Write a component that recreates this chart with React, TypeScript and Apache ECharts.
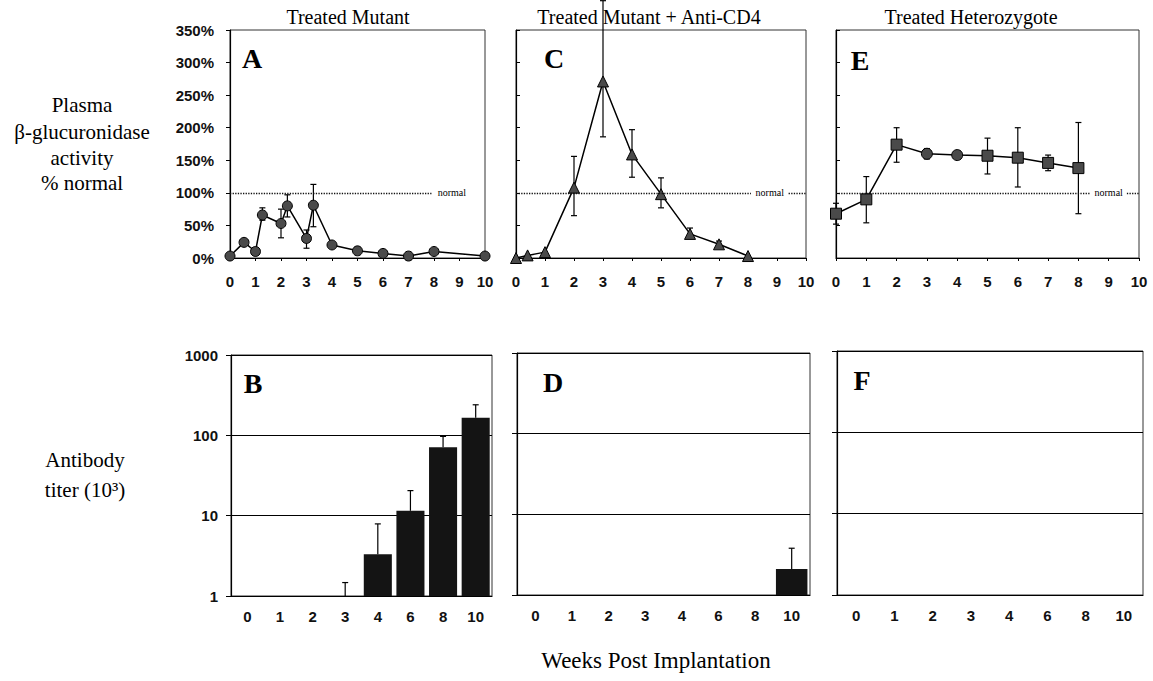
import React, { useEffect, useRef } from 'react';
import * as echarts from 'echarts';

// Panel A – Treated Mutant
const weeksA = [0, 0.55, 1, 1.27, 2, 2.25, 3, 3.27, 4, 5, 6, 7, 8, 10];
const activityA = [3, 24, 10, 66, 53, 80, 30, 81, 20, 11, 7, 3, 10, 3];
const lowA = [null, null, null, 58, 31, 63, 15, 48, null, null, null, null, null, null];
const highA = [null, null, null, 77, 75, 97, 43, 113, null, null, null, null, null, null];

// Panel C – Treated Mutant + Anti-CD4
const weeksC = [0, 0.4, 1, 2, 3, 4, 5, 6, 7, 8];
const activityC = [0, 4, 9, 108, 271, 159, 98, 37, 21, 3];
const lowC = [null, null, null, 65, 186, 124, 77, 31, 17, null];
const highC = [null, null, null, 156, 395, 197, 123, 46, 26, null];

// Panel E – Treated Heterozygote
const weeksE = [0, 1, 2, 3, 4, 5, 6, 7, 8];
const activityE = [68, 90, 174, 160, 158, 157, 154, 146, 138];
const lowE = [52, 54, 147, 152, 153, 129, 109, 134, 68];
const highE = [84, 125, 200, 168, 163, 184, 200, 158, 208];

// Antibody titer panels (10^3)
const titerWeeks = ['0', '1', '2', '3', '4', '6', '8', '10'];
const titerB = [null, null, null, 1, 3.3, 11.5, 71, 165];
const titerBHigh = [null, null, null, 1.47, 7.9, 20.5, 97, 240];
const titerD = [null, null, null, null, null, null, null, 2.1];
const titerDHigh = [null, null, null, null, null, null, null, 3.8];
const titerF = [null, null, null, null, null, null, null, null];
const titerFHigh = [null, null, null, null, null, null, null, null];

const normalLevel = 100;

const INK = '#000';
const SANS = '"Liberation Sans", Arial, sans-serif';
const SERIF = '"Liberation Serif", "Times New Roman", serif';

function errRender(capW: number, lowerCap: boolean) {
  return (params: any, api: any) => {
    const x = api.value(0);
    const lo = api.value(1);
    const hi = api.value(2);
    const a = api.coord([x, lo]);
    const b = api.coord([x, hi]);
    const st = { stroke: INK, lineWidth: 1.2 };
    const children: any[] = [
      { type: 'line', shape: { x1: a[0], y1: a[1], x2: b[0], y2: b[1] }, style: st },
      { type: 'line', shape: { x1: b[0] - capW, y1: b[1], x2: b[0] + capW, y2: b[1] }, style: st },
    ];
    if (lowerCap) {
      children.push({ type: 'line', shape: { x1: a[0] - capW, y1: a[1], x2: a[0] + capW, y2: a[1] }, style: st });
    }
    return { type: 'group', children };
  };
}

function errData(xs: any[], lo: any[], hi: any[]) {
  const out: any[] = [];
  xs.forEach((x, i) => {
    if (lo[i] != null && hi[i] != null) out.push([x, lo[i], hi[i]]);
  });
  return out;
}

function txt(x: number, y: number, text: string, font: string, align = 'center') {
  return {
    type: 'text',
    x,
    y,
    style: {
      text,
      font,
      fill: INK,
      textAlign: align,
      textVerticalAlign: 'middle',
      align,
      verticalAlign: 'middle',
    },
  };
}

export default function App() {
  const ref = useRef<HTMLDivElement>(null);

  useEffect(() => {
    if (!ref.current) return;
    const chart = echarts.init(ref.current, null, { renderer: 'svg' });

    const topGrids = [
      { left: 230, top: 30, width: 255, height: 228 },
      { left: 516, top: 30, width: 290, height: 228 },
      { left: 836, top: 30, width: 303, height: 228 },
    ];
    const botGrids = [
      { left: 231, top: 355, width: 261, height: 241 },
      { left: 517, top: 353, width: 293, height: 242 },
      { left: 837, top: 351, width: 306, height: 244 },
    ];
    const grid = [...topGrids, ...botGrids].map((g) => ({
      ...g,
      show: true,
      borderColor: '#333',
      borderWidth: 1,
      backgroundColor: 'transparent',
    }));

    const labelStyle = { fontSize: 15, fontWeight: 'bold', color: '#111', fontFamily: SANS };

    const xAxis: any[] = [];
    const yAxis: any[] = [];
    for (let i = 0; i < 3; i++) {
      xAxis.push({
        type: 'value',
        gridIndex: i,
        min: 0,
        max: 10,
        interval: 1,
        axisLine: { show: true, onZero: false, lineStyle: { color: INK, width: 1.2 } },
        axisTick: { show: true, length: 3, lineStyle: { color: INK } },
        axisLabel: { ...labelStyle, margin: 16 },
        splitLine: { show: false },
      });
      yAxis.push({
        type: 'value',
        gridIndex: i,
        min: 0,
        max: 350,
        interval: 50,
        axisLine: { show: true, lineStyle: { color: INK, width: 1.2 } },
        axisTick: { show: true, length: 4, inside: i !== 0, lineStyle: { color: INK } },
        axisLabel: { ...labelStyle, show: i === 0, margin: 16, formatter: '{value}%' },
        splitLine: { show: false },
      });
    }
    for (let i = 0; i < 3; i++) {
      xAxis.push({
        type: 'category',
        gridIndex: 3 + i,
        data: titerWeeks,
        axisLine: { show: true, lineStyle: { color: INK, width: 1.2 } },
        axisTick: { show: false },
        axisLabel: { ...labelStyle, margin: 13 },
        splitLine: { show: false },
      });
      yAxis.push({
        type: 'log',
        logBase: 10,
        gridIndex: 3 + i,
        min: 1,
        max: 1000,
        axisLine: { show: true, lineStyle: { color: INK, width: 1.2 } },
        axisTick: { show: true, length: 5, lineStyle: { color: INK } },
        axisLabel: {
          ...labelStyle,
          show: i === 0,
          margin: 13,
          formatter: (v: number) => String(Math.round(v)),
        },
        splitLine: { show: true, lineStyle: { color: INK, width: 1.2, type: 'solid' } },
        minorTick: { show: false },
      });
    }

    const lineSeries = (
      idx: number,
      xs: number[],
      ys: number[],
      symbol: any,
      size: number,
      normalSegs: number[][],
      normalAt: number
    ) => ({
      type: 'line',
      xAxisIndex: idx,
      yAxisIndex: idx,
      data: xs.map((x, i) => [x, ys[i]]),
      symbol,
      symbolSize: size,
      showSymbol: true,
      lineStyle: { color: INK, width: 1.5 },
      itemStyle: { color: '#4a4a4a', borderColor: INK, borderWidth: 1 },
      z: 4,
      markLine: {
        silent: true,
        symbol: 'none',
        lineStyle: { type: 'dotted', color: '#111', width: 1.3 },
        label: { show: false },
        data: normalSegs.map((s) => [
          { coord: [s[0], normalLevel] },
          { coord: [s[1], normalLevel] },
        ]),
      },
      markPoint: {
        silent: true,
        symbol: 'rect',
        symbolSize: [34, 9],
        itemStyle: { color: 'rgba(0,0,0,0)' },
        label: {
          show: true,
          position: 'inside',
          formatter: 'normal',
          color: INK,
          fontSize: 10,
          fontFamily: SERIF,
        },
        data: [{ coord: [normalAt, normalLevel] }],
      },
    });

    const errSeries = (idx: number, data: any[], capW: number, lowerCap: boolean) => ({
      type: 'custom',
      xAxisIndex: idx,
      yAxisIndex: idx,
      data,
      clip: false,
      z: 3,
      silent: true,
      renderItem: errRender(capW, lowerCap),
      encode: { x: 0, y: [1, 2] },
    });

    const barSeries = (idx: number, vals: any[]) => ({
      type: 'bar',
      xAxisIndex: idx,
      yAxisIndex: idx,
      data: vals,
      barCategoryGap: '14%',
      itemStyle: { color: '#141414' },
      z: 2,
    });

    const eSymbol = (v: any) => (v[0] === 3 || v[0] === 4 ? 'circle' : 'rect');

    const series: any[] = [
      errSeries(0, errData(weeksA, lowA, highA), 3, true),
      lineSeries(0, weeksA, activityA, 'circle', 10, [[0, 7.9]], 8.7),
      errSeries(1, errData(weeksC, lowC, highC), 3, true),
      lineSeries(1, weeksC, activityC, 'triangle', 11, [[0, 8.1], [9.4, 10]], 8.75),
      errSeries(2, errData(weeksE, lowE, highE), 3, true),
      lineSeries(2, weeksE, activityE, eSymbol, 11, [[0, 8.4], [9.6, 10]], 9.0),
      barSeries(3, titerB),
      errSeries(3, errData(titerWeeks.map((_, i) => i), titerB.map((v) => v ?? 1), titerBHigh), 3, false),
      barSeries(4, titerD),
      errSeries(4, errData(titerWeeks.map((_, i) => i), titerD, titerDHigh), 3, false),
      barSeries(5, titerF),
      errSeries(5, errData(titerWeeks.map((_, i) => i), titerF, titerFHigh), 3, false),
    ];

    const titleFont = `20px ${SERIF}`;
    const sideFont = `21px ${SERIF}`;
    const letterFont = `bold 28px ${SERIF}`;

    const graphic: any[] = [
      txt(348, 17, 'Treated Mutant', titleFont),
      txt(649, 17, 'Treated Mutant + Anti-CD4', titleFont),
      txt(971, 17, 'Treated Heterozygote', titleFont),
      txt(252, 58, 'A', letterFont),
      txt(554, 58, 'C', letterFont),
      txt(860, 60, 'E', letterFont),
      txt(253, 383, 'B', letterFont),
      txt(553, 382, 'D', letterFont),
      txt(862, 380, 'F', letterFont),
      txt(82, 105, 'Plasma', sideFont),
      txt(82, 132, 'β-glucuronidase', sideFont),
      txt(82, 158, 'activity', sideFont),
      txt(82, 183, '% normal', sideFont),
      txt(85, 460, 'Antibody', sideFont),
      txt(85, 490, 'titer (10³)', sideFont),
      txt(656, 660, 'Weeks Post Implantation', `23px ${SERIF}`),
    ];

    chart.setOption({
      animation: false,
      backgroundColor: '#fff',
      grid,
      xAxis,
      yAxis,
      series,
      graphic,
    });

    return () => chart.dispose();
  }, []);

  return (
    <div
      ref={ref}
      style={{ position: 'absolute', left: 0, top: 0, width: 1153, height: 681 }}
    />
  );
}
